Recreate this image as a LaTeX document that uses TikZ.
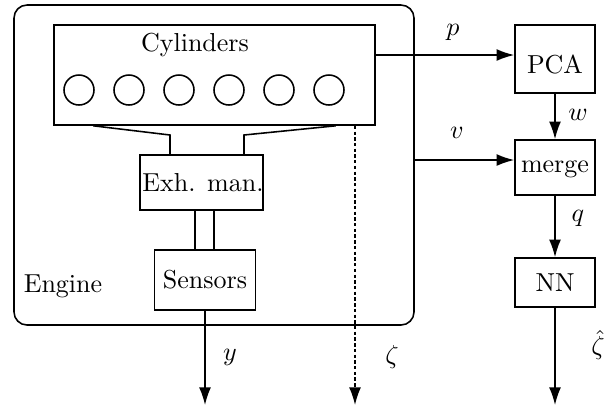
\documentclass[tikz,border=0pt]{standalone}
\usetikzlibrary{arrows.meta,calc}
\begin{document}
\begin{tikzpicture}[x=0.3846pt,y=-0.3846pt,line width=0.6pt,
  blk/.style 2 args={draw,rectangle,inner sep=0pt,minimum width={#1*0.3846pt},minimum height={#2*0.3846pt}},
  cyl/.style={draw,circle,inner sep=0pt,minimum size={30*0.3846pt}},
  arr/.style={-{Latex[length=6.8pt,width=4.6pt]}},
  dots/.style={dash pattern=on 1.3pt off 0.9pt},
  lbl/.style={inner sep=0pt}]
\useasboundingbox (0,0) rectangle (611,410);
% engine
\node[blk={400}{320},rounded corners=5pt] (engine) at (214,165) {};
\node[lbl] (englbl) at (63,286) {Engine};
% cylinders
\node[blk={321}{100}] (cylbox) at (214.5,75) {};
\node[lbl] (cyltxt) at (195,45) {Cylinders};
\foreach \i/\x in {1/79,2/129,3/179,4/229,5/279,6/329}
  \node[cyl] (c\i) at (\x,90) {};
% exhaust manifold, sensors
\node[blk={123}{55}] (exh) at (201.5,182.5) {};
\node[lbl] (exhtxt) at (203,183) {Exh. man.};
\node[blk={101}{60}] (sens) at (205,280) {Sensors};
% right blocks
\node[blk={80}{68}] (pca) at (555,59) {};
\node[lbl] (pcatxt) at (555,64) {PCA};
\node[blk={80}{55}] (merge) at (555,167.5) {};
\node[lbl] (mergetxt) at (555,169) {merge};
\node[blk={80}{49}] (nn) at (555,282.5) {NN};
% exhaust pipes
\draw ($(cylbox.south west)+(40,0)$) -- (170,135) -- (exh.north -| 170,0);
\draw ($(cylbox.south east)+(-40,0)$) -- (244,135) -- (exh.north -| 244,0);
\draw (exh.south -| 195,0) -- (sens.north -| 195,0);
\draw (exh.south -| 214,0) -- (sens.north -| 214,0);
% outputs
\coordinate (yout) at (205,405);
\coordinate (zout) at (355,405);
\coordinate (zhout) at (555,405);
\draw[arr] (sens.south) -- (yout);
\draw[dots,arr] (cylbox.south -| zout) -- (zout);
\node[lbl] (ylbl) at (230,357) {$y$};
\node[lbl] (zlbl) at (392,357) {$\zeta$};
% signals
\draw[arr] ($(cylbox.east)+(0,-20)$) -- ($(pca.west)+(0,-4)$);
\node[lbl] (plbl) at (453,32) {$p$};
\draw[arr] ($(engine.east)+(0,-5)$) -- ($(merge.west)+(0,-7.5)$);
\node[lbl] (vlbl) at (457,133) {$v$};
\draw[arr] (pca.south) -- (merge.north);
\node[lbl] (wlbl) at (578,115) {$w$};
\draw[arr] (merge.south) -- (nn.north);
\node[lbl] (qlbl) at (578,218) {$q$};
\draw[arr] (nn.south) -- (zhout);
\node[lbl] (zhlbl) at (598,345) {$\hat{\zeta}$};
\end{tikzpicture}
\end{document}
